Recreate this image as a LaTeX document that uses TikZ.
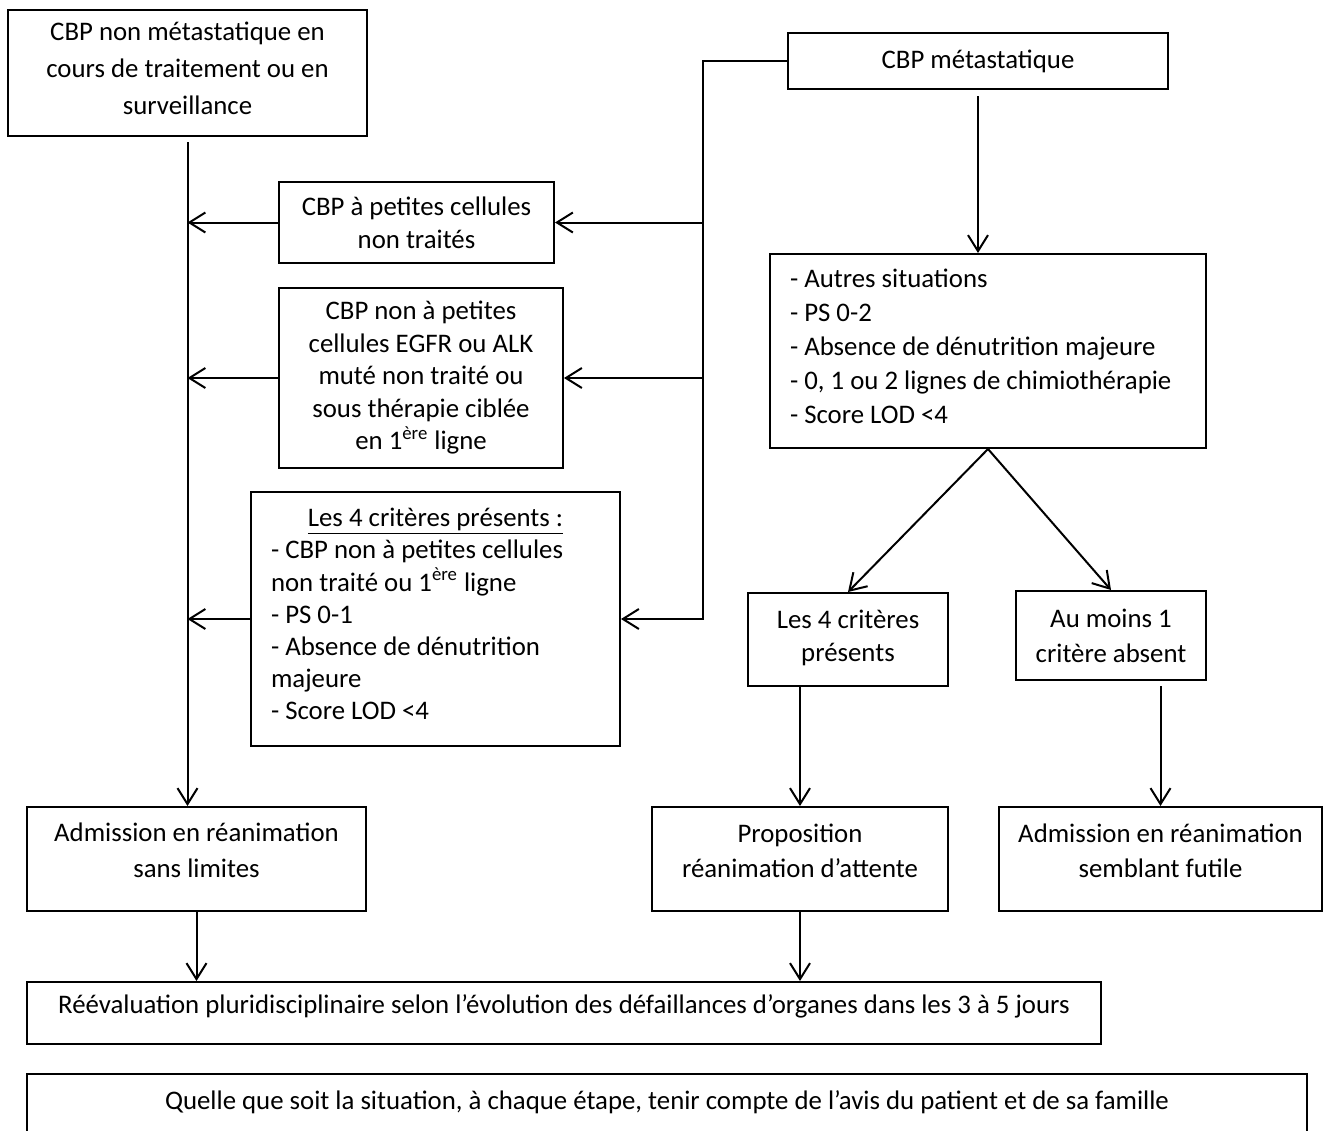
\documentclass[tikz,border=0pt]{standalone}
\usepackage{fontspec}
\setmainfont{Carlito}
\usetikzlibrary{arrows.meta}
\newcommand{\descente}[1]{\rule[-#1]{0pt}{#1}}

\begin{document}
\begin{tikzpicture}[x=0.5pt,y=-0.5pt,
	box/.style={draw,line width=1pt,align=center,inner sep=2pt,font=\fontsize{13.4}{16.5}\selectfont},
	arr/.style={line width=1pt,-{Straight Barb[length=8pt,width=10pt]}},
	line/.style={line width=1pt}]
			\clip (0,0) rectangle (1324,1131);
			\fill[white] (0,0) rectangle (1324,1131);
			\node[box,minimum width=179.5pt,minimum height=63pt,font=\fontsize{13.4}{18.5}\selectfont] (nonmeta) at (187.5,73) {CBP non métastatique en\\cours de traitement ou en\\surveillance\descente{5pt}};
			\node[box,minimum width=190pt,minimum height=28pt] (meta) at (978,61) {CBP métastatique};
			\node[box,minimum width=137.5pt,minimum height=40.5pt] (petites) at (416.5,222.5) {CBP à petites cellules\\non traités};
			\node[box,minimum width=142pt,minimum height=90pt,font=\fontsize{13.4}{16.25}\selectfont] (egfr) at (421,378) {CBP non à petites\\cellules EGFR ou ALK\\muté non traité ou\\sous thérapie ciblée\\en 1\textsuperscript{ère} ligne};
			\node[box,align=flush left,text width=164.5pt,inner xsep=10pt,minimum height=127pt,font=\fontsize{13.4}{16.1}\selectfont] (crit) at (435.5,619) {\centerline{\underline{Les 4 critères présents :}}
				- CBP non à petites cellules\\non traité ou 1\textsuperscript{ère} ligne\\- PS 0-1\\- Absence de dénutrition\\majeure\\- Score LOD <4\descente{5pt}};
			\node[box,align=flush left,text width=198pt,inner xsep=10pt,minimum height=97pt,font=\fontsize{13.4}{17}\selectfont] (autres) at (988,351) {- Autres situations\\- PS 0-2\\- Absence de dénutrition majeure\\- 0, 1 ou 2 lignes de chimiothérapie\\- Score LOD <4\descente{5pt}};
			\node[box,minimum width=100pt,minimum height=46.5pt] (quatre) at (848,639.5) {Les 4 critères\\présents\descente{4pt}};
			\node[box,minimum width=95pt,minimum height=44.5pt,font=\fontsize{13.4}{17.5}\selectfont] (aumoins) at (1111,635.5) {Au moins 1\\critère absent};
			\node[box,minimum width=169.5pt,minimum height=52pt,font=\fontsize{13.4}{18}\selectfont] (sans) at (196.5,859) {Admission en réanimation\\sans limites\descente{8.5pt}};
			\node[box,minimum width=148pt,minimum height=52pt,font=\fontsize{13.4}{17.5}\selectfont] (propo) at (800,859) {Proposition\\réanimation d’attente\descente{8.5pt}};
			\node[box,minimum width=161.5pt,minimum height=52pt,font=\fontsize{13.4}{17.5}\selectfont] (futile) at (1160.5,859) {Admission en réanimation\\semblant futile\descente{8.5pt}};
			\node[box,minimum width=537pt,minimum height=31pt] (reeval) at (564,1013) {Réévaluation pluridisciplinaire selon l’évolution des défaillances d’organes dans les 3 à 5 jours\descente{9pt}};
			\node[box,minimum width=640pt,minimum height=33pt] (quelle) at (667,1107) {Quelle que soit la situation, à chaque étape, tenir compte de l’avis du patient et de sa famille\descente{7pt}};
			\coordinate (jr) at (703,61);
			\draw[arr,shorten <=2.5pt] (nonmeta.south) -- (nonmeta.south |- sans.north);
			\draw[arr] (petites.west) -- (petites.west -| nonmeta.south);
			\draw[arr] (egfr.west) -- (egfr.west -| nonmeta.south);
			\draw[arr] (crit.west) -- (crit.west -| nonmeta.south);
			\draw[arr] (meta.west) -- (jr) |- (crit.east);
			\draw[arr] (jr |- petites.east) -- (petites.east);
			\draw[arr] (jr |- egfr.east) -- (egfr.east);
			\draw[arr,shorten <=3pt] (meta.south) -- (meta.south |- autres.north);
			\draw[arr] (autres.south) -- (quatre.north);
			\draw[arr] (autres.south) -- (aumoins.north);
			\draw[arr] (propo.north |- quatre.south) -- (propo.north);
			\draw[arr,shorten <=2.5pt] (futile.north |- aumoins.south) -- (futile.north);
			\draw[arr] (sans.south) -- (sans.south |- reeval.north);
			\draw[arr] (propo.south) -- (propo.south |- reeval.north);
		\end{tikzpicture}
\end{document}
